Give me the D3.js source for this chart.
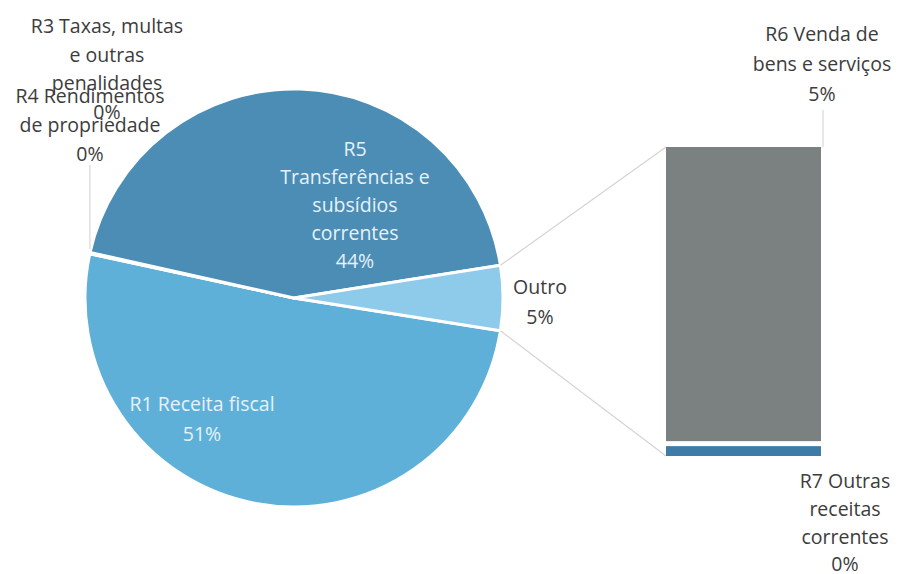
<!DOCTYPE html>
<html>
<head>
<meta charset="utf-8">
<script src="https://cdn.jsdelivr.net/npm/d3@7"></script>
<style>
  html, body { margin: 0; padding: 0; background: #ffffff; }
  svg { display: block; }
  text { font-family: "Open Sans", Lato, sans-serif; font-size: 19.5px; }
</style>
</head>
<body>
<svg id="chart" width="898" height="574"></svg>
<script>
// ---- data ----
const pieCategories = ["R1 Receita fiscal", "R3 Taxas, multas e outras penalidades", "R4 Rendimentos de propriedade", "R5 Transferências e subsídios correntes", "Outro"];
const pieValues = [50.9, 0.05, 0.05, 44.0, 5.0];
const barCategories = ["R6 Venda de bens e serviços", "R7 Outras receitas correntes"];
const barValues = [4.8, 0.2];

// ---- layout ----
const svg = d3.select("#chart");
const cx = 294, cy = 298, R = 209;
const pieColors = ["#5fb0d8", "#4d8fb6", "#4d8fb6", "#4b8db5", "#8ecbea"];
const barColors = ["#7b8181", "#3f7ba7"];

const outroFrac = pieValues[4] / d3.sum(pieValues);
const half = outroFrac * Math.PI; // half of Outro angle
const pie = d3.pie().sort(null).value(d => d)
  .startAngle(Math.PI / 2 + half)
  .endAngle(Math.PI / 2 + half + 2 * Math.PI);
const arcs = pie(pieValues);
const arc = d3.arc().innerRadius(0).outerRadius(R);

const g = svg.append("g").attr("transform", `translate(${cx},${cy})`);

// connector lines from Outro slice to bar
const outroArc = arcs[4];
const pt = a => [cx + R * Math.sin(a), cy - R * Math.cos(a)];
const outroTop = pt(outroArc.startAngle);
const outroBot = pt(outroArc.endAngle);

const barX = d3.scaleBand().domain(["bar"]).range([666, 821]).padding(0);
const barY = d3.scaleLinear().domain([0, d3.sum(barValues)]).range([456, 147]);

svg.append("line").attr("x1", outroTop[0]).attr("y1", outroTop[1])
  .attr("x2", barX("bar")).attr("y2", barY(d3.sum(barValues)))
  .attr("stroke", "#d4d4d4").attr("stroke-width", 1.2);
svg.append("line").attr("x1", outroBot[0]).attr("y1", outroBot[1])
  .attr("x2", barX("bar")).attr("y2", barY(0))
  .attr("stroke", "#d4d4d4").attr("stroke-width", 1.2);

// pie slices
g.selectAll("path.slice").data(arcs).enter().append("path")
  .attr("class", "slice")
  .attr("d", arc)
  .attr("fill", (d, i) => pieColors[i])
  .attr("stroke", "#ffffff")
  .attr("stroke-width", 3)
  .attr("stroke-linejoin", "round");

// stacked bar (R7 at bottom, R6 on top)
const stackOrder = [1, 0];
let acc = 0;
const segs = stackOrder.map(i => {
  const s = { i, y0: acc, y1: acc + barValues[i] };
  acc += barValues[i];
  return s;
});
svg.selectAll("rect.seg").data(segs).enter().append("rect")
  .attr("class", "seg")
  .attr("x", barX("bar"))
  .attr("width", barX.bandwidth())
  .attr("y", d => barY(d.y1) + (d.y1 < acc ? 2.5 : 0))
  .attr("height", d => barY(d.y0) - barY(d.y1) - (d.y1 < acc ? 2.5 : 0) - (d.y0 > 0 ? 2.5 : 0))
  .attr("fill", d => barColors[d.i]);

// leader lines
const r34 = pt(arcs[2].startAngle);
svg.append("line").attr("x1", r34[0]).attr("y1", r34[1] - 4).attr("x2", r34[0]).attr("y2", 165)
  .attr("stroke", "#d8d8d8").attr("stroke-width", 1.2);
svg.append("line").attr("x1", 823).attr("y1", barY(d3.sum(barValues))).attr("x2", 823).attr("y2", 110)
  .attr("stroke", "#d8d8d8").attr("stroke-width", 1.2);

// labels
const pct = v => Math.round(v / d3.sum(pieValues) * 100) + "%";
function label(lines, x, y, step, color) {
  const t = svg.append("text").attr("text-anchor", "middle").attr("fill", color);
  lines.forEach((l, k) => t.append("tspan").attr("x", x).attr("y", y + k * step).text(l));
}
const dark = "#3c3c3c", light = "#e6f2f8";
label(["R3 Taxas, multas", "e outras", "penalidades", pct(pieValues[1])], 107, 33, 28.5, dark);
label(["R4 Rendimentos", "de propriedade", pct(pieValues[2])], 90, 103, 29, dark);
label(["R5", "Transferências e", "subsídios", "correntes", pct(pieValues[3])], 355, 156, 28, light);
label(["R1 Receita fiscal", pct(pieValues[0])], 202, 411, 30, light);
label(["Outro", pct(pieValues[4])], 540, 294, 30, dark);
label(["R6 Venda de", "bens e serviços", pct(barValues[0])], 822, 41, 30, dark);
label(["R7 Outras", "receitas", "correntes", pct(barValues[1])], 845, 488, 27.8, dark);
</script>
</body>
</html>
